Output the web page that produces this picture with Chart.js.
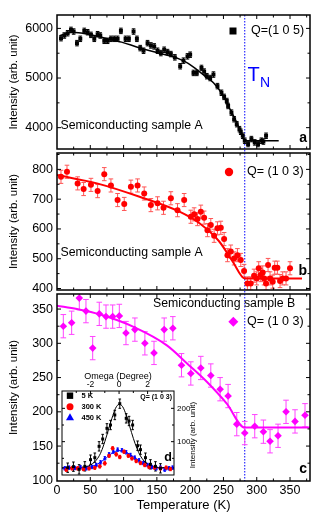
<!DOCTYPE html>
<html>
<head>
<meta charset="utf-8">
<script src="https://cdn.jsdelivr.net/npm/chart.js@4.4.0/dist/chart.umd.min.js"></script>
<style>
html, body { margin: 0; padding: 0; background: #fff; }
#wrap { position: relative; width: 332px; height: 524px; }
#wrap canvas { position: absolute; left: 0; top: 0; }
</style>
</head>
<body>
<div id="wrap">
  <canvas id="panelA" width="332" height="524"></canvas>
  <canvas id="panelB" width="332" height="524"></canvas>
  <canvas id="panelC" width="332" height="524"></canvas>
  <canvas id="inset" width="332" height="524"></canvas>
</div>
<script>
// Temperature axis (shared by panels a, b, c)
const xMajor = [0, 50, 100, 150, 200, 250, 300, 350];
const xMinor = [25, 75, 125, 175, 225, 275, 325, 375];
const tN = 282;

// Panel a: Q=(1 0 5), semiconducting sample A
const tempA = [6, 11, 16, 21, 25, 30, 35, 41, 46, 51, 56, 61, 65, 71, 76, 81, 86, 91, 96, 103,
    108, 115, 120, 125, 130, 136, 141, 146, 151, 156, 161, 166, 171, 177, 185, 190, 196, 200, 205, 210,
    217, 221, 225, 230, 235, 241, 247, 251, 255, 257, 262, 266, 270, 274, 276, 279, 282, 287, 292, 297,
    302, 307, 310, 314];
const intA = [5803, 5857, 5903, 5970, 5937, 5703, 5790, 5950, 5923, 5870, 5790, 5883, 5857, 5750, 5750, 5790, 5790, 5790, 5950, 5790,
    5790, 5937, 5790, 5603, 5550, 5703, 5657, 5637, 5550, 5503, 5570, 5523, 5483, 5417, 5237, 5350, 5437, 5470, 5103, 5103,
    5203, 5130, 5037, 5000, 5070, 4837, 4703, 4620, 4537, 4437, 4303, 4170, 4070, 3970, 3917, 3837, 3737, 3670, 3770, 3703,
    3670, 3737, 3720, 3837];
const errA = 55;
const fitTempA = [5, 22, 47, 72, 97, 122, 147, 172, 185, 197, 210, 222, 235, 250, 260, 270, 277, 282, 333];
const fitIntA = [5857, 5923, 5883, 5803, 5723, 5617, 5523, 5437, 5375, 5295, 5170, 5040, 4903, 4637, 4370, 4103, 3870, 3735, 3735];
const yMajorA = [4000, 5000, 6000];
const yMinorA = [4500, 5500];

// Panel b: Q=(1 0 3), semiconducting sample A
const tempB = [6, 15, 31, 40, 51, 61, 71, 81, 91, 101, 111, 121, 131, 141, 151, 160, 171, 181, 191, 201,
    206, 211, 216, 221, 226, 231, 236, 241, 246, 251, 256, 261, 266, 271, 276, 281, 286, 291, 296, 300,
    303, 306, 309, 311, 314, 317, 320, 324, 327, 331, 335, 339, 344, 350];
const intB = [775, 792, 753, 734, 748, 727, 784, 746, 697, 684, 742, 746, 719, 680, 686, 671, 703, 663, 697, 641,
    649, 633, 658, 638, 596, 613, 577, 602, 604, 566, 512, 524, 501, 512, 496, 459, 417, 417, 443, 434,
    468, 445, 454, 434, 417, 479, 434, 423, 470, 470, 425, 434, 434, 468];
const errB = 22;
const fitTempB = [0, 60, 124, 184, 214, 244, 264, 282, 368];
const fitIntB = [781, 753, 708, 658, 619, 557, 490, 434, 434];
const yMajorB = [400, 500, 600, 700, 800];
const yMinorB = [450, 550, 650, 750, 850];

// Panel c: Q=(1 0 3), semiconducting sample B
const tempC = [9.5, 22, 33.5, 43.5, 53.6, 63.5, 73.6, 83.6, 93.6, 103.6, 117, 132, 145.7, 161, 174,
    187, 201, 216, 231, 245, 257, 270, 282, 297, 310, 320, 332, 344, 357.5, 372.5];
const intC = [325, 330, 366, 347, 293, 343, 339, 339, 340, 315, 320, 300, 286, 320, 322,
    268, 256, 264, 253, 233, 223, 182, 169, 179, 171, 157, 165, 200, 186, 195];
const errC = 17;
const fitTempC = [0, 30, 65, 115, 165, 195, 225, 255, 282, 380];
const fitIntC = [355, 350, 342, 324, 297, 271, 244, 212, 177, 177];
const yMajorC = [100, 150, 200, 250, 300, 350];
const yMinorC = [125, 175, 225, 275, 325];

// Inset d: omega scans
const om5 = [-3.6, -3.2, -2.8, -2.4, -2.0, -1.7, -1.4, -1.15, -0.85, -0.6, -0.3, 0.05, 0.5, 0.7, 0.95, 1.3, 1.5, 1.85, 2.2, 2.55, 2.9];
const int5 = [22, 25, 17, 26, 46, 52, 86, 108, 140, 150, 180, 214, 170, 162, 150, 88, 76, 52, 32, 26, 20];
const om300 = [-3.7, -3.3, -2.9, -2.5, -2.1, -1.7, -1.35, -1.0, -0.7, -0.45, -0.2, 0.05, 0.35, 0.65, 0.9, 1.2, 1.5, 1.8, 2.1, 2.5, 2.9, 3.3, 3.6];
const int300 = [16, 20, 20, 18, 20, 22, 26, 35, 58, 80, 62, 54, 70, 58, 50, 42, 36, 30, 24, 22, 20, 22, 18];
const om450 = [-3.8, -3.5, -3.1, -2.7, -2.3, -1.9, -1.6, -1.3, -1.0, -0.7, -0.4, -0.1, 0.2, 0.5, 0.8, 1.1, 1.4, 1.7, 2.0, 2.3, 2.6, 2.9, 3.2, 3.5, 3.75];
const int450 = [20, 22, 21, 23, 20, 24, 30, 38, 50, 62, 70, 76, 74, 68, 60, 52, 44, 36, 30, 24, 20, 22, 16, 20, 22];
const fitOm5 = [-4, -3, -2.5, -2, -1.5, -1.25, -1, -0.75, -0.5, -0.25, 0, 0.25, 0.5, 0.75, 1, 1.25, 1.5, 2, 2.5, 3, 3.85];
const fitInt5 = [22, 22, 24, 30, 50, 70, 100, 135, 170, 200, 212, 205, 180, 145, 110, 80, 57, 32, 24, 22, 22];
const fitOm450 = [-4, -3, -2, -1.5, -1, -0.5, 0, 0.5, 1, 1.5, 2, 2.5, 3, 3.85];
const fitInt450 = [20, 21, 25, 33, 48, 65, 73, 68, 55, 40, 28, 23, 21, 20];
const omMajor = [-2, 0, 2];
const omMinor = [-3, -1, 1, 3];
const inMajor = [100, 200];
const inMinor = [50, 150, 250];

const FONT = "'Liberation Sans', Arial, sans-serif";

function pts(xs, ys) {
    return xs.map((x, i) => ({ x: x, y: ys[i] }));
}

function drawMarker(ctx, style, x, y, r, color) {
    ctx.fillStyle = color;
    ctx.beginPath();
    if (style === 'rect') {
        ctx.rect(x - r, y - r, 2 * r, 2 * r);
    } else if (style === 'circle') {
        ctx.arc(x, y, r, 0, Math.PI * 2);
    } else if (style === 'diamond') {
        ctx.moveTo(x, y - r); ctx.lineTo(x + r, y); ctx.lineTo(x, y + r); ctx.lineTo(x - r, y);
        ctx.closePath();
    } else if (style === 'triangle') {
        ctx.moveTo(x, y - r); ctx.lineTo(x + r, y + r * 0.75); ctx.lineTo(x - r, y + r * 0.75);
        ctx.closePath();
    }
    ctx.fill();
}

// frame, inward ticks, error bars, T_N line and annotations
function framePlugin(cfg) {
    return {
        id: 'frame',
        beforeDraw(chart) {
            if (!cfg.white) return;
            const a = chart.chartArea, ctx = chart.ctx;
            ctx.save();
            ctx.fillStyle = '#fff';
            ctx.fillRect(a.left, a.top, a.right - a.left, a.bottom - a.top);
            ctx.restore();
        },
        beforeDatasetsDraw(chart) {
            const ctx = chart.ctx, a = chart.chartArea, ys = chart.scales.y;
            ctx.save();
            if (cfg.tn !== undefined) {
                const px = chart.scales.x.getPixelForValue(cfg.tn);
                ctx.strokeStyle = '#0000ff';
                ctx.lineWidth = 1;
                ctx.setLineDash([1.5, 1.5]);
                ctx.beginPath();
                ctx.moveTo(px, a.top);
                ctx.lineTo(px, a.bottom + (cfg.tnExtend || 0));
                ctx.stroke();
                ctx.setLineDash([]);
            }
            ctx.beginPath();
            ctx.rect(a.left, a.top, a.right - a.left, a.bottom - a.top);
            ctx.clip();
            chart.data.datasets.forEach((ds, i) => {
                if (!ds.errorBar) return;
                const meta = chart.getDatasetMeta(i);
                ctx.strokeStyle = ds.errorColor;
                ctx.lineWidth = 1;
                ctx.beginPath();
                meta.data.forEach((el, j) => {
                    const v = ds.data[j].y;
                    const t = ys.getPixelForValue(v + ds.errorBar);
                    const b = ys.getPixelForValue(v - ds.errorBar);
                    ctx.moveTo(el.x, t); ctx.lineTo(el.x, b);
                    ctx.moveTo(el.x - ds.capW, t); ctx.lineTo(el.x + ds.capW, t);
                    ctx.moveTo(el.x - ds.capW, b); ctx.lineTo(el.x + ds.capW, b);
                });
                ctx.stroke();
            });
            ctx.restore();
        },
        afterDraw(chart) {
            const ctx = chart.ctx, a = chart.chartArea;
            const xs = chart.scales.x, ys = chart.scales.y;
            ctx.save();
            // ticks
            ctx.strokeStyle = '#000';
            ctx.lineWidth = 1;
            ctx.beginPath();
            const hTicks = (vals, len) => vals.forEach(v => {
                const p = xs.getPixelForValue(v);
                if (p < a.left + 1 || p > a.right - 1) return;
                if (cfg.bottomTicks !== false) { ctx.moveTo(p, a.bottom); ctx.lineTo(p, a.bottom - len); }
                ctx.moveTo(p, a.top); ctx.lineTo(p, a.top + len);
            });
            const vTicks = (vals, len) => vals.forEach(v => {
                const p = ys.getPixelForValue(v);
                if (p < a.top + 1 || p > a.bottom - 1) return;
                ctx.moveTo(a.left, p); ctx.lineTo(a.left + len, p);
                ctx.moveTo(a.right, p); ctx.lineTo(a.right - len, p);
            });
            hTicks(cfg.xMajor, cfg.major); hTicks(cfg.xMinor, cfg.minor);
            vTicks(cfg.yMajor, cfg.major); vTicks(cfg.yMinor, cfg.minor);
            ctx.stroke();
            // frame
            ctx.lineWidth = cfg.frameWidth;
            ctx.strokeRect(a.left, a.top, a.right - a.left, a.bottom - a.top);
            // legend markers
            (cfg.markers || []).forEach(m => drawMarker(ctx, m.style, m.x, m.y, m.r, m.color));
            // texts
            (cfg.texts || []).forEach(t => {
                ctx.save();
                ctx.fillStyle = t.color || '#000';
                ctx.font = (t.bold ? 'bold ' : '') + t.size + 'px ' + FONT;
                ctx.textAlign = t.align || 'left';
                ctx.textBaseline = t.base || 'alphabetic';
                ctx.translate(t.x, t.y);
                if (t.rot) ctx.rotate(t.rot);
                ctx.fillText(t.t, 0, 0);
                ctx.restore();
            });
            ctx.restore();
        }
    };
}

function pointSet(xs, ys, style, r, color, err, errColor, capW) {
    return {
        data: pts(xs, ys), pointStyle: style, pointRadius: r, backgroundColor: color,
        borderColor: color, borderWidth: 0, showLine: false,
        errorBar: err, errorColor: errColor, capW: capW
    };
}

function fitSet(xs, ys, color, width) {
    return {
        data: pts(xs, ys), showLine: true, pointRadius: 0, borderColor: color,
        borderWidth: width, cubicInterpolationMode: 'monotone', fill: false
    };
}

const noGrid = { display: false, drawTicks: false };

function makePanel(id, p) {
    return new Chart(document.getElementById(id), {
        type: 'scatter',
        data: { datasets: p.datasets },
        options: {
            responsive: false,
            animation: false,
            events: [],
            layout: { padding: p.pad },
            plugins: { legend: { display: false }, tooltip: { enabled: false } },
            scales: {
                x: {
                    type: 'linear', min: 0, max: 380, display: p.showX,
                    afterBuildTicks: s => { s.ticks = xMajor.map(v => ({ value: v })); },
                    afterFit: s => { if (p.showX) s.height = 43; },
                    grid: noGrid, border: { display: false },
                    ticks: { padding: 2, color: '#000', autoSkip: false, maxRotation: 0,
                        font: { family: FONT, size: 12.5 }, callback: v => String(v) },
                    title: { display: true, text: 'Temperature (K)', color: '#000',
                        font: { family: FONT, size: 13 }, padding: { top: 0, bottom: 11 } }
                },
                y: {
                    type: 'linear', min: p.yMin, max: p.yMax,
                    afterBuildTicks: s => { s.ticks = p.yMajor.map(v => ({ value: v })); },
                    afterFit: s => { s.width = 50; },
                    grid: noGrid, border: { display: false },
                    ticks: { padding: 4, color: '#000', font: { family: FONT, size: 12.5 }, callback: v => String(v) },
                    title: { display: true, text: 'Intensity (arb. unit)', color: '#000',
                        font: { family: FONT, size: 11.5 }, padding: 0 }
                }
            }
        },
        plugins: [framePlugin(Object.assign({
            xMajor: xMajor, xMinor: xMinor, yMajor: p.yMajor, yMinor: p.yMinor,
            major: 4, minor: 2.5, frameWidth: 1.5, tn: tN
        }, p.frame))]
    });
}

makePanel('panelA', {
    pad: { top: 15, bottom: 375, left: 7, right: 22 },
    showX: false, yMin: 3570, yMax: 6270, yMajor: yMajorA, yMinor: yMinorA,
    datasets: [
        pointSet(tempA, intA, 'rect', 2.8, '#000', errA, '#000', 1.8),
        fitSet(fitTempA, fitIntA, '#000', 1.5)
    ],
    frame: {
        tnExtend: 4,
        markers: [{ style: 'rect', x: 233, y: 31, r: 3.5, color: '#000' }],
        texts: [
            { t: 'Q=(1 0 5)', x: 251, y: 31, size: 12.5, base: 'middle' },
            { t: 'T', x: 247.5, y: 80.7, size: 20, color: '#0000ff' },
            { t: 'N', x: 260, y: 87.3, size: 14, color: '#0000ff' },
            { t: 'Semiconducting sample A', x: 60.5, y: 128.5, size: 12.3 },
            { t: 'a', x: 307, y: 142, size: 14, bold: true, align: 'right' }
        ]
    }
});

makePanel('panelB', {
    pad: { top: 153, bottom: 234, left: 7, right: 22 },
    showX: false, yMin: 395, yMax: 855, yMajor: yMajorB, yMinor: yMinorB,
    datasets: [
        pointSet(tempB, intB, 'circle', 3, '#ff0000', errB, '#ff5555', 2.3),
        fitSet(fitTempB, fitIntB, '#ff0000', 2)
    ],
    frame: {
        tnExtend: 4,
        markers: [{ style: 'circle', x: 229, y: 172, r: 4.2, color: '#ff0000' }],
        texts: [
            { t: 'Q= (1 0 3)', x: 247, y: 172, size: 12.5, base: 'middle' },
            { t: 'Semiconducting sample A', x: 60.5, y: 255.5, size: 12.3 },
            { t: 'b', x: 307, y: 275, size: 14, bold: true, align: 'right' }
        ]
    }
});

makePanel('panelC', {
    pad: { top: 294, bottom: 0, left: 7, right: 22 },
    showX: true, yMin: 99, yMax: 372, yMajor: yMajorC, yMinor: yMinorC,
    datasets: [
        pointSet(tempC, intC, 'rectRot', 3.8, '#ff00ff', errC, '#ff44ff', 2.8),
        fitSet(fitTempC, fitIntC, '#ff00ff', 2)
    ],
    frame: {
        markers: [{ style: 'diamond', x: 233.3, y: 321.7, r: 5, color: '#ff00ff' }],
        texts: [
            { t: 'Semiconducting sample B', x: 153, y: 306.5, size: 12.3 },
            { t: 'Q= (1 0 3)', x: 247, y: 322, size: 12.5, base: 'middle' },
            { t: 'c', x: 307, y: 473, size: 14, bold: true, align: 'right' }
        ]
    }
});

// Inset d
new Chart(document.getElementById('inset'), {
    type: 'scatter',
    data: {
        datasets: [
            pointSet(om5, int5, 'rect', 2.1, '#000', 14, '#000', 1.3),
            pointSet(om300, int300, 'circle', 1.9, '#ff0000', 5, '#ff0000', 1.2),
            pointSet(om450, int450, 'triangle', 2.3, '#0000ff', 5, '#0000ff', 1.2),
            fitSet(fitOm5, fitInt5, '#000', 1),
            fitSet(fitOm450, fitInt450, '#0000ff', 1)
        ]
    },
    options: {
        responsive: false,
        animation: false,
        events: [],
        layout: { padding: { top: 370, bottom: 49, left: 62, right: 128 } },
        plugins: { legend: { display: false }, tooltip: { enabled: false } },
        scales: {
            x: {
                type: 'linear', position: 'top', min: -4, max: 3.85,
                afterBuildTicks: s => { s.ticks = omMajor.map(v => ({ value: v })); },
                afterFit: s => { s.height = 21; },
                grid: noGrid, border: { display: false },
                ticks: { padding: 1, color: '#000', autoSkip: false, maxRotation: 0,
                    font: { family: FONT, size: 8.5 }, callback: v => String(v) },
                title: { display: true, text: 'Omega (Degree)', color: '#000',
                    font: { family: FONT, size: 9 }, padding: { top: 1, bottom: 0 } }
            },
            y: {
                type: 'linear', position: 'right', min: 0, max: 252,
                afterBuildTicks: s => { s.ticks = inMajor.map(v => ({ value: v })); },
                afterFit: s => { s.width = 30; },
                grid: noGrid, border: { display: false },
                ticks: { padding: 3, color: '#000', font: { family: FONT, size: 8 }, callback: v => String(v) }
            }
        }
    },
    plugins: [framePlugin({
        white: true, xMajor: omMajor, xMinor: omMinor, yMajor: inMajor, yMinor: inMinor,
        major: 3, minor: 2, frameWidth: 1, bottomTicks: false,
        markers: [
            { style: 'rect', x: 70, y: 395.7, r: 3.2, color: '#000' },
            { style: 'circle', x: 70, y: 406.7, r: 3.5, color: '#ff0000' },
            { style: 'triangle', x: 70, y: 417.2, r: 4, color: '#0000ff' }
        ],
        texts: [
            { t: '5 K', x: 81.5, y: 396, size: 7.5, bold: true, base: 'middle' },
            { t: '300 K', x: 81.5, y: 407, size: 7.5, bold: true, base: 'middle' },
            { t: '450 K', x: 81.5, y: 418, size: 7.5, bold: true, base: 'middle' },
            { t: 'Q= (1 0 3)', x: 172, y: 397, size: 7, bold: true, align: 'right', base: 'middle' },
            { t: 'd', x: 172, y: 460.7, size: 12.5, bold: true, align: 'right' },
            { t: 'Intensity (arb. unit)', x: 193, y: 435, size: 8, align: 'center', base: 'middle', rot: -Math.PI / 2 }
        ]
    })]
});
</script>
</body>
</html>
